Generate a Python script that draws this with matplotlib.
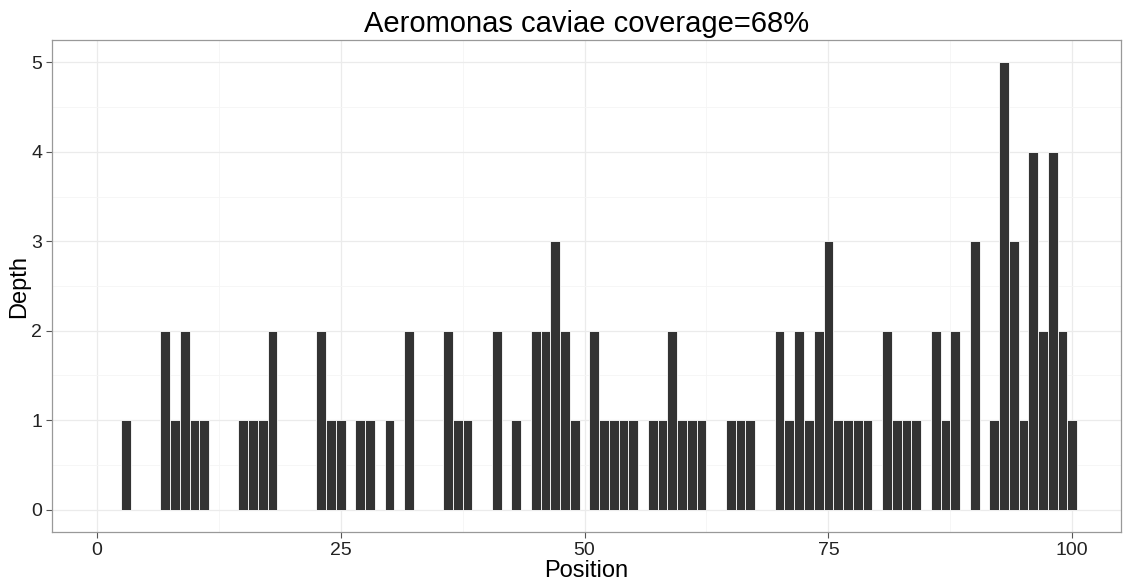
import numpy as np
import matplotlib
matplotlib.use("Agg")
import matplotlib.pyplot as plt
from matplotlib.ticker import MultipleLocator

# covered positions and their read depth
positions = [3, 7, 8, 9, 10, 11, 15, 16, 17, 18, 23, 24, 25, 27, 28, 30, 32,
             36, 37, 38, 41, 43, 45, 46, 47, 48, 49, 51, 52, 53, 54, 55,
             57, 58, 59, 60, 61, 62, 65, 66, 67, 70, 71, 72, 73, 74, 75, 76,
             77, 78, 79, 81, 82, 83, 84, 86, 87, 88, 90, 92, 93, 94, 95, 96,
             97, 98, 99, 100]
depths = [1, 2, 1, 2, 1, 1, 1, 1, 1, 2, 2, 1, 1, 1, 1, 1, 2,
          2, 1, 1, 2, 1, 2, 2, 3, 2, 1, 2, 1, 1, 1, 1,
          1, 1, 2, 1, 1, 1, 1, 1, 1, 2, 1, 2, 1, 2, 3, 1,
          1, 1, 1, 2, 1, 1, 1, 2, 1, 2, 3, 1, 5, 3, 1, 4,
          2, 4, 2, 1]
x_ticks = [0, 25, 50, 75, 100]
y_ticks = [0, 1, 2, 3, 4, 5]
title = "Aeromonas caviae coverage=68%"

plt.rcParams['font.family'] = ['Liberation Sans', 'DejaVu Sans']

fig = plt.figure(figsize=(11.26, 5.83), dpi=100)
ax = fig.add_axes([52 / 1126, 1 - 532 / 583, (1121 - 52) / 1126, (532 - 40) / 583])

ax.bar(positions, depths, width=1.0, color='#333333', edgecolor='white',
       linewidth=0.6, zorder=3)

ax.set_xlim(-4.6, 105)
ax.set_ylim(-0.25, 5.25)
ax.set_xticks(x_ticks)
ax.set_yticks(y_ticks)
ax.xaxis.set_minor_locator(MultipleLocator(12.5))
ax.yaxis.set_minor_locator(MultipleLocator(0.5))
ax.grid(which='major', color='#ebebeb', linewidth=0.9, zorder=0)
ax.grid(which='minor', color='#f5f5f5', linewidth=0.6, zorder=0)
ax.tick_params(which='minor', length=0)
ax.tick_params(which='major', length=4, width=0.8, color='#555555',
               labelsize=14, labelcolor='#222222', pad=3)

for s in ax.spines.values():
    s.set_color('#999999')
    s.set_linewidth(0.9)

ax.set_title(title, fontsize=21, pad=6)
ax.set_xlabel("Position", fontsize=17, labelpad=1)
ax.set_ylabel("Depth", fontsize=17, labelpad=1)

fig.savefig("out.png", dpi=100)
